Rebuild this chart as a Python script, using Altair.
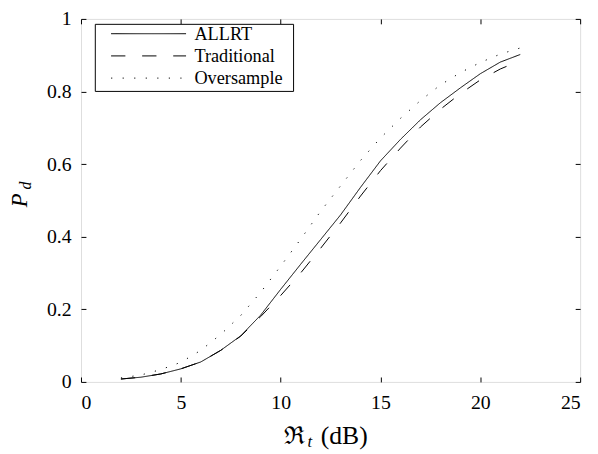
import altair as alt
import pandas as pd

# ---- data ----
snr_db = [2, 3, 4, 5, 6, 7, 8, 9, 10, 11, 12, 13, 14, 15, 16, 17, 18, 19, 20, 21, 22]
allrt = [0.008, 0.013, 0.022, 0.036, 0.055, 0.087, 0.127, 0.184, 0.255, 0.324, 0.392, 0.460,
         0.536, 0.609, 0.668, 0.722, 0.769, 0.810, 0.849, 0.881, 0.902]
traditional = [0.008, 0.013, 0.022, 0.036, 0.055, 0.087, 0.126, 0.180, 0.238, 0.300, 0.368, 0.438,
               0.512, 0.582, 0.644, 0.702, 0.751, 0.794, 0.832, 0.862, 0.885]
oversample = [0.011, 0.019, 0.034, 0.054, 0.087, 0.131, 0.183, 0.247, 0.319, 0.393, 0.470, 0.540,
              0.610, 0.672, 0.726, 0.775, 0.818, 0.852, 0.880, 0.903, 0.920]
series_names = ["ALLRT", "Traditional", "Oversample"]
x_ticks = [0, 5, 10, 15, 20, 25]
y_ticks = [0, 0.2, 0.4, 0.6, 0.8, 1]

rows = []
for name, vals in zip(series_names, [allrt, traditional, oversample]):
    for xv, yv in zip(snr_db, vals):
        rows.append({"x": xv, "y": yv, "series": name})
df = pd.DataFrame(rows)

W, H = 506, 368
FONT = "Liberation Serif, Times New Roman, serif"

xscale = alt.Scale(domain=[0, 25], nice=False, zero=False)
yscale = alt.Scale(domain=[0, 1], nice=False, zero=False)

common_axis = dict(domain=False, grid=False, tickSize=5, tickColor="black", tickWidth=1,
                   offset=-5, labelFont=FONT, labelFontSize=20, labelColor="black")

lines = alt.Chart(df).mark_line(color="black", strokeWidth=1).encode(
    x=alt.X("x:Q", scale=xscale,
            axis=alt.Axis(orient="bottom", values=x_ticks, title="", labelPadding=11,
                          **common_axis)),
    y=alt.Y("y:Q", scale=yscale,
            axis=alt.Axis(orient="left", values=y_ticks, format="~g", title="",
                          labelPadding=10, **common_axis)),
    strokeDash=alt.StrokeDash(
        "series:N",
        scale=alt.Scale(domain=series_names, range=[[1, 0], [14.5, 17], [1.2, 10.5]]),
        sort=series_names,
        legend=alt.Legend(
            title="ii", titleOrient="right", titleColor="transparent", titleFontSize=10,
            titlePadding=2,
            orient="none", legendX=14, legendY=5,
            symbolType="stroke", symbolSize=5776, symbolStrokeWidth=1,
            symbolStrokeColor="black", symbolOffset=13, labelOffset=8,
            clipHeight=14, rowPadding=3.5, padding=3,
            labelFont=FONT, labelFontSize=18.5, labelColor="black",
            strokeColor="black", fillColor="white", labelLimit=300,
        ),
    ),
    order=alt.Order("x:Q"),
)

frame_axes = alt.Chart(df).mark_line(opacity=0).encode(
    x=alt.X("x:Q", scale=xscale,
            axis=alt.Axis(orient="top", values=x_ticks, labels=False, title="", **common_axis)),
    y=alt.Y("y:Q", scale=yscale,
            axis=alt.Axis(orient="right", values=y_ticks, labels=False, title="", **common_axis)),
    detail="series:N",
)

one = pd.DataFrame({"k": [0]})
ytitle_p = alt.Chart(one).mark_text(text="P", font=FONT, fontSize=23, fontStyle="italic",
                                    angle=270, baseline="middle", align="center").encode(
    x=alt.value(-62), y=alt.value(184))
ytitle_d = alt.Chart(one).mark_text(text="d", font=FONT, fontSize=16, fontStyle="italic",
                                    angle=270, baseline="middle", align="center").encode(
    x=alt.value(-56), y=alt.value(169))
xtitle_r = alt.Chart(one).mark_text(text="ℜ", font="DejaVu Serif", fontSize=25,
                                    baseline="alphabetic", align="center").encode(
    x=alt.value(216), y=alt.value(431))
xtitle_t = alt.Chart(one).mark_text(text="t", font=FONT, fontSize=17, fontStyle="italic",
                                    baseline="alphabetic", align="center").encode(
    x=alt.value(232), y=alt.value(434))
xtitle_db = alt.Chart(one).mark_text(text="(dB)", font=FONT, fontSize=26,
                                     baseline="alphabetic", align="left").encode(
    x=alt.value(243), y=alt.value(431))

chart = alt.layer(lines, frame_axes, ytitle_p, ytitle_d, xtitle_r, xtitle_t, xtitle_db).resolve_axis(
    x="independent", y="independent"
).properties(
    width=W, height=H,
    autosize=alt.AutoSizeParams(type="none"),
    padding={"left": 74, "top": 8, "right": 10, "bottom": 70},
).configure_view(stroke="black", strokeWidth=1).configure(background="white")

chart.save("out.html", embed_options={"renderer": "svg", "actions": False})
